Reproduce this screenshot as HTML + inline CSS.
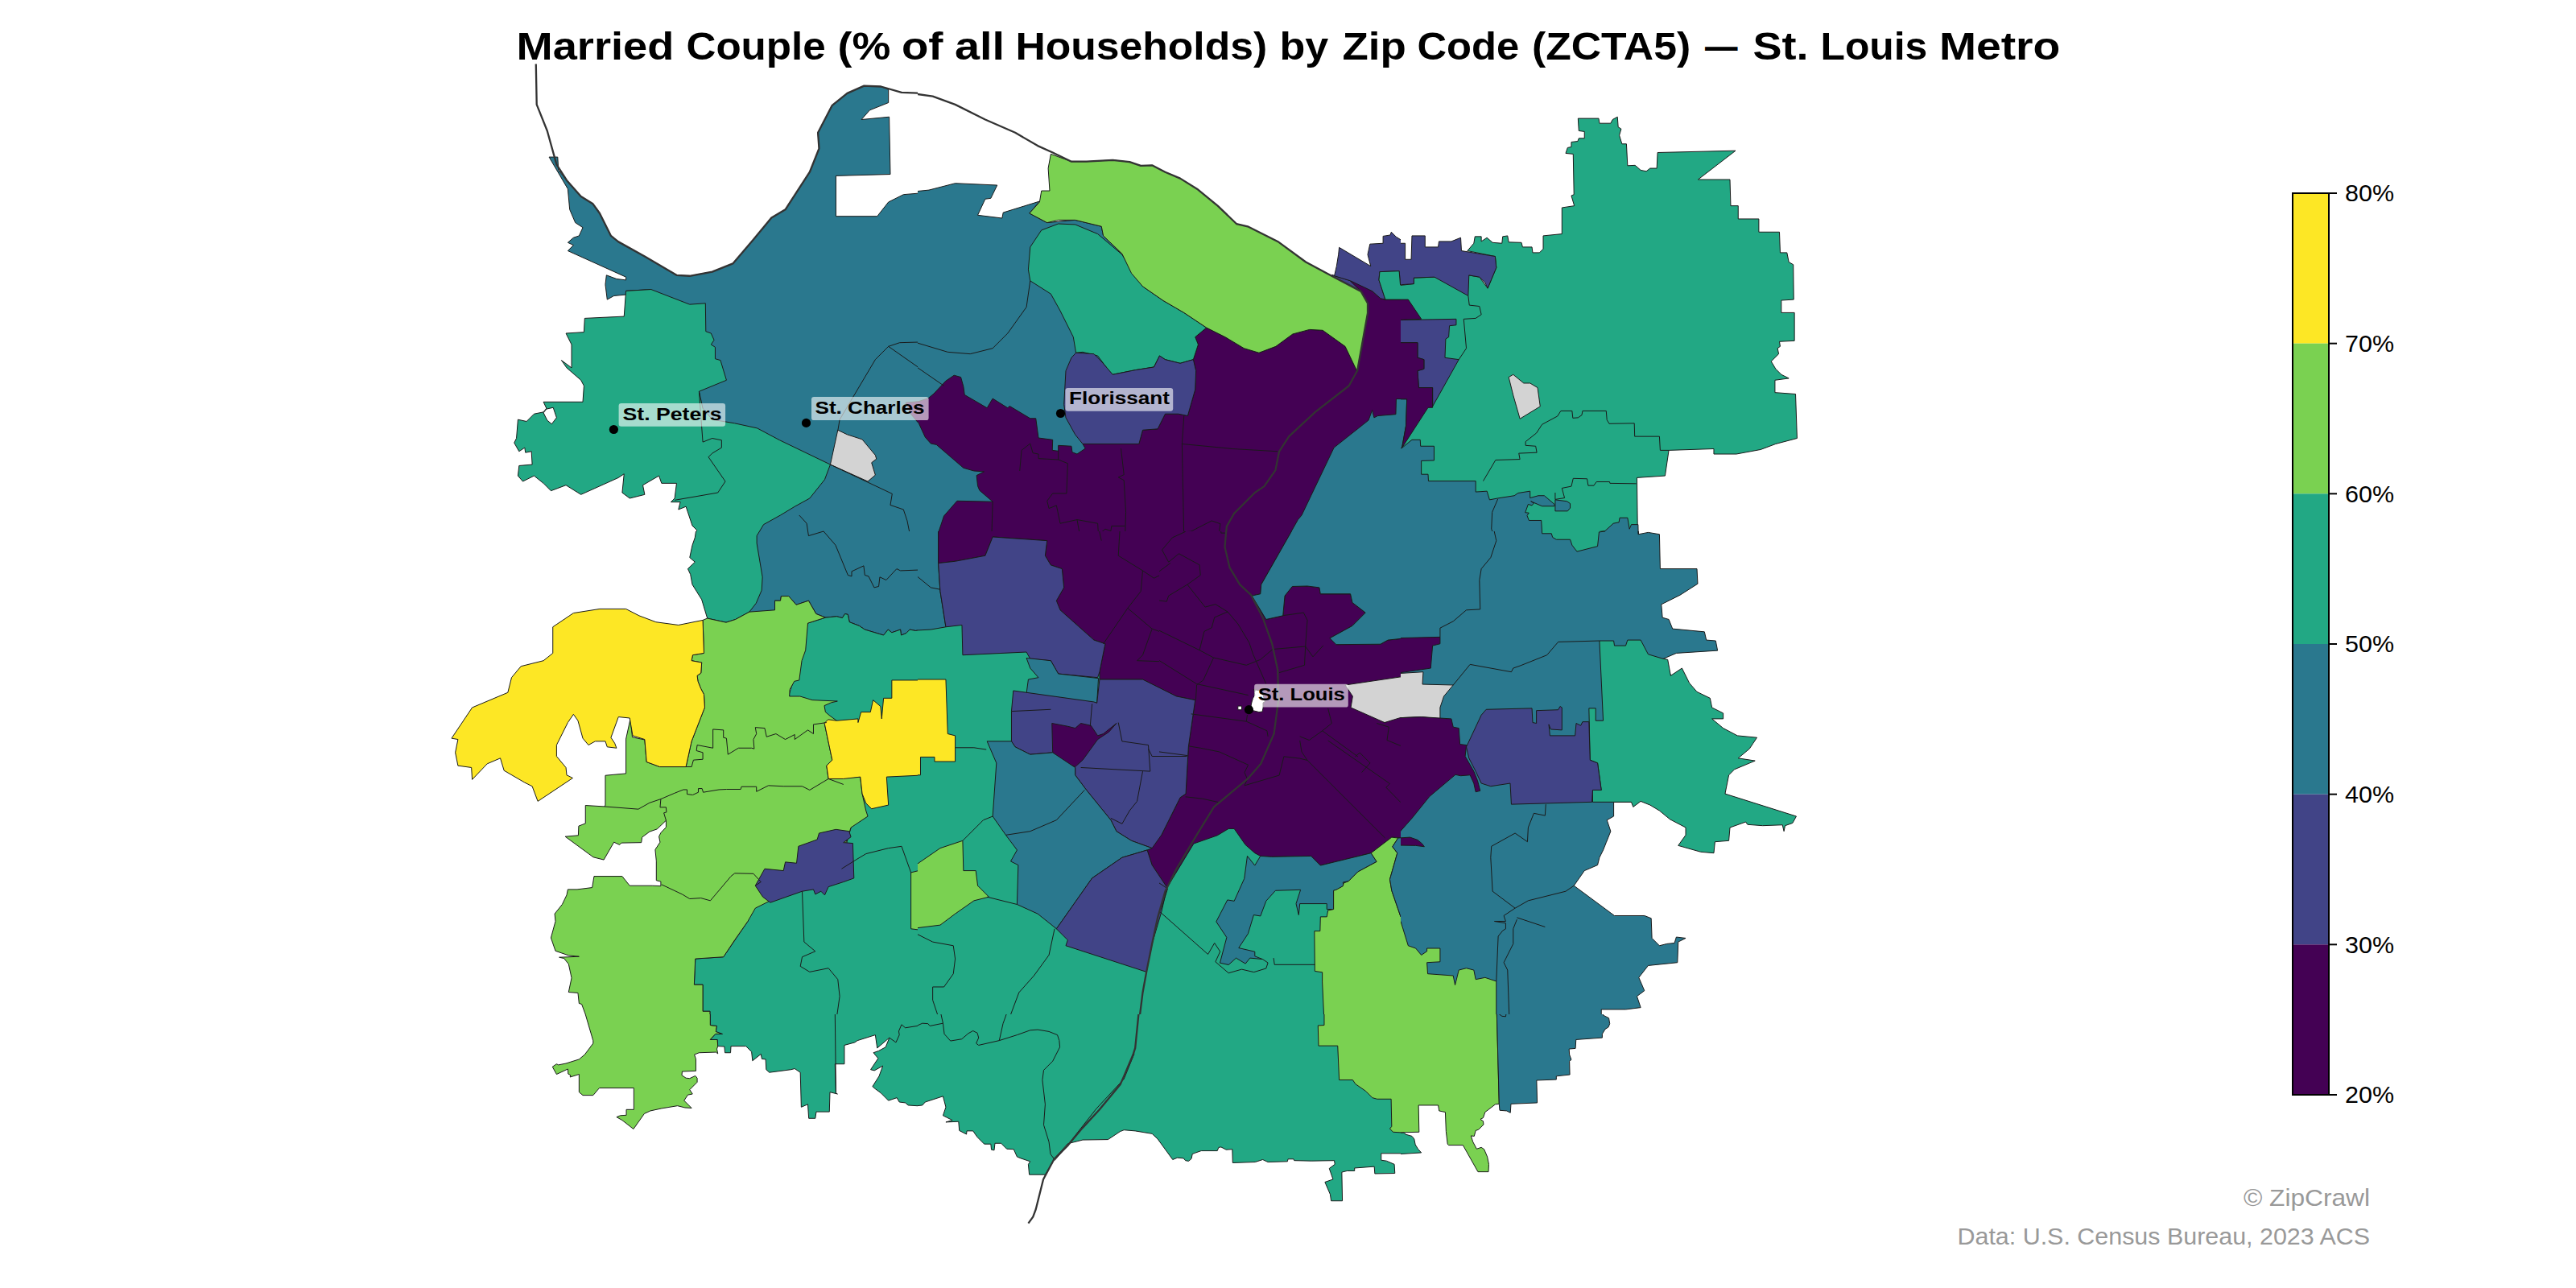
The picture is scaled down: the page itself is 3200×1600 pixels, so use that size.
<!DOCTYPE html>
<html><head><meta charset="utf-8"><style>
html,body{margin:0;padding:0;background:#fff;}
body{width:3200px;height:1600px;overflow:hidden;position:relative;font-family:"Liberation Sans",sans-serif;}
svg{position:absolute;left:0;top:0;}
path{stroke:#1a1a1a;stroke-width:1;vector-effect:non-scaling-stroke;stroke-linejoin:round;}
.ln{fill:none;}
.rv{fill:none;stroke:#333;stroke-width:2.3;}
</style></head><body>
<svg width="3200" height="1600" viewBox="0 0 3200 1600">
<defs><clipPath id="ct1"><rect x="540" y="60" width="600" height="600"/></clipPath><clipPath id="ct2"><rect x="1140" y="60" width="600" height="600"/></clipPath><clipPath id="ct3"><rect x="1740" y="60" width="600" height="600"/></clipPath><clipPath id="ct4"><rect x="540" y="660" width="600" height="600"/></clipPath><clipPath id="ct5"><rect x="1140" y="660" width="600" height="600"/></clipPath><clipPath id="ct6"><rect x="1740" y="660" width="600" height="600"/></clipPath><clipPath id="ct7"><rect x="540" y="1260" width="600" height="300"/></clipPath><clipPath id="ct8"><rect x="1140" y="1260" width="600" height="300"/></clipPath><clipPath id="ct9"><rect x="1740" y="1260" width="600" height="300"/></clipPath></defs>
<g clip-path="url(#ct1)"><g transform="translate(540,60) scale(0.465839)">
<path d="M305 290 L328 290 330 325 352 352 390 395 422 415 440 440 470 500 490 516 560 555 645 605 680 607 740 596 795 574 850 510 898 452 935 430 1000 330 1025 267 1022 225 1060 152 1100 120 1145 100 1190 102 1210 110 1210 145 1160 165 1138 190 1212 183 1215 336 1070 340 1070 448 1180 448 1210 410 1250 390 1310 385 1310 1310 760 1310 705 915 650 800 577 643 510 647 510 657 478 660 460 670 455 630 458 605 485 615 510 618 510 610 355 540 370 525 355 518 370 505 385 500 395 478 375 465 360 430 355 375 Z" fill="#2a788e"/>
<path d="M577 643 L680 683 722 680 723 755 737 760 745 778 737 790 748 797 748 828 762 832 778 885 705 915 715 960 740 990 800 1000 860 1013 920 1045 1055 1110 1040 1150 1000 1200 960 1222 922 1245 877 1270 859 1300 859 1330 687 1330 694 1305 699 1285 687 1273 670 1222 650 1230 655 1210 630 1210 640 1200 645 1160 605 1160 598 1140 555 1165 560 1190 520 1200 500 1185 505 1135 490 1145 390 1190 350 1165 310 1180 290 1160 265 1140 235 1155 222 1140 225 1113 260 1110 258 1075 242 1078 240 1065 225 1075 212 1052 218 1040 222 990 245 995 265 975 290 970 298 960 290 943 395 943 398 900 390 885 352 852 338 832 365 852 365 790 350 760 398 757 400 720 505 715 510 647 Z" fill="#22a884"/>
<path d="M1256 945 L1288 942 1315 933 1315 1025 1288 997 1271 977 Z" fill="#440154"/>
<path d="M1075 1018 L1100 1030 1140 1043 1175 1085 1178 1095 1165 1105 1175 1138 1155 1155 1055 1110 Z" fill="#d3d3d3"/>
<path d="M298 962 L316 958 325 985 312 1002 300 992 290 972 Z" fill="#ffffff"/>
<path d="M705 915 L715 1050 740 1040 765 1045 765 1065 740 1080 730 1090 775 1155 755 1185 640 1205" class="ln"/>
<path d="M1075 1020 L1080 990 1175 830 1210 795 1240 785 1310 783" class="ln"/>
<path d="M1210 795 L1310 865" class="ln"/>
<path d="M1055 1110 L1220 1188 1215 1218 1250 1230 1260 1260 1270 1310" class="ln"/>
<path d="M972 1245 L992 1267 997 1300 1037 1288" class="ln"/>
<path d="M270 42 L272 150 300 220 325 310 352 352 390 395 422 415 440 440 470 500 490 516 560 555 645 605 680 607 740 596 795 574 850 510 898 452 935 430 1000 330 1025 267 1022 225 1060 152 1100 120 1145 100 1190 102 1245 118 1310 120" class="rv"/>
</g></g><g clip-path="url(#ct2)"><g transform="translate(1140,60) scale(0.465839)">
<path d="M-20 383 L30 378 100 360 212 365 195 400 180 402 160 445 225 453 228 438 325 408 298 440 345 465 420 458 490 475 495 500 700 700 1172 860 1310 900 1310 1310 -20 1310 Z" fill="#2a788e"/>
<path d="M1105 604 L1154 620 1185 650 1105 612 Z" fill="#414487"/>
<path d="M-33 945 L1.5 942 28.6 933 43 921 75 887 97 872 115 877 122 902 125 924 185 959 200 934 240 959 245 954 300 987 315 987 322 1039 360 1044 359 1072 375 1074 375 1059 410 1061 412 1077 425 1082 447 1067 440 1055 590 1055 600 1018 640 1015 660 975 695 975 720 980 740 910 742 860 735 830 748 790 740 770 770 745 820 770 870 800 910 812 955 795 1000 762 1045 750 1080 752 1140 795 1172 862 1200 706 1200 680 1182 648 1154 621 1165 622 1213 648 1234 667 1247 670 1310 670 1310 935 1276 935 1275 976 1227 980 1217 985 1212 965 1202 992 1110 1065 1024 1245 1014 1257 916 1430 60 1312 55 1292 70 1247 105 1207 200 1209 165 1179 160 1167 157 1139 177 1129 150 1127 122 1119 50 1057 35 1054 20 1037 1.5 997 -16.5 977 Z" fill="#440154"/>
<path d="M295 590 L300 530 330 485 375 468 420 470 480 495 545 550 575 600 600 635 655 673 710 705 770 745 740 770 748 790 735 830 700 840 660 830 645 820 630 850 580 858 520 870 510 860 480 820 440 810 422 812 415 770 380 700 355 655 300 620 Z" fill="#22a884"/>
<path d="M422 812 L470 815 490 835 520 870 580 858 630 850 645 820 660 830 700 840 735 830 742 860 740 910 720 980 695 975 660 975 640 1015 600 1018 590 1055 440 1055 420 1030 395 985 390 950 395 860 410 825 Z" fill="#414487"/>
<path d="M355 282 L410 302 450 302 520 298 565 303 595 313 625 312 660 330 700 347 745 375 800 420 850 468 880 475 960 515 1035 570 1110 610 1182 648 1200 680 1200 706 1172 862 1140 795 1080 752 1045 750 1000 762 955 795 910 812 870 800 820 770 770 745 710 705 655 673 600 635 570 600 545 548 495 500 490 475 420 458 375 458 345 465 298 440 325 410 330 380 352 380 348 320 Z" fill="#7ad151"/>
<path d="M1111 607 L1117 581 1122 550 1124 531 1208 581 1200 550 1206 522 1241 520 1241 501 1260 498 1263 490 1276 503 1297 516 1300 563 1319 563 1319 628 1287 630 1284 594 1232 596 1230 618 1247 670 1234 667 1213 648 1154 620 Z" fill="#414487"/>
<path d="M1230 618 L1232 596 1284 594 1287 631 1323 628 1323 670 1247 670 Z" fill="#22a884"/>
<path d="M300 620 L290 690 240 760 200 800 140 815 80 810 -20 780" class="ln"/>
<path d="M-20 838 L70 900" class="ln"/>
<path d="M272 1127 L277 1072 300 1054 307 1079 322 1082 322 1094 375 1097 375 1074" class="ln"/>
<path d="M375 1097 L400 1107 397 1187 360 1187 345 1207 350 1227 370 1219 380 1267 425 1257 480 1267 482 1297 500 1282 515 1287 517 1274 552 1274" class="ln"/>
<path d="M542 1067 L550 1137 535 1144 550 1152 555 1237 552 1330" class="ln"/>
<path d="M710 980 L705 1055 710 1310" class="ln"/>
<path d="M705 1055 L840 1068 960 1075" class="ln"/>
<path d="M200 1209 L197 1310" class="ln"/>
<path d="M425 1257 L435 1312" class="ln"/>
<path d="M712 1290 L729 1288 784 1260 807 1268 804 1290 819 1293" class="ln"/>
<path d="M-30 118 L40 128 100 150 180 190 260 225 320 260 360 278 410 302 450 302 520 298 565 303 595 313 625 312 660 330 700 347 745 375 800 420 850 468 880 475 960 515 1035 570 1110 610 1182 648 1200 680 1200 706 1172 862" class="rv"/>
<path d="M1172 860 L1150 900 1060 970 990 1035 964 1075 954 1125 924 1168 899 1185 844 1240 824 1275 819 1330" class="rv"/>
</g></g><g clip-path="url(#ct3)"><g transform="translate(1740,60) scale(0.465839)">
<path d="M473 187 L528 187 530 200 560 200 565 190 578 183 580 210 588 215 583 232 590 255 602 255 605 313 625 312 640 325 655 328 665 320 683 320 685 278 893 273 793 350 878 350 880 420 900 420 900 455 955 455 955 490 1010 490 1012 545 1030 545 1035 570 1047 577 1048 670 1015 672 1015 705 1050 705 1050 780 1010 782 1012 795 1005 800 1008 815 988 835 1000 855 1015 870 1035 880 998 885 998 918 1053 922 1057 1040 1000 1055 960 1070 895 1082 835 1082 835 1068 715 1072 705 1140 630 1145 632 1310 -20 1310 -20 632 0 632 35 628 35 612 90 610 180 605 210 610 232 640 255 585 252 555 178 540 195 520 198 502 215 502 215 515 230 505 245 518 270 520 272 502 285 500 288 517 322 518 325 530 350 530 352 545 370 545 380 535 380 500 430 495 430 425 463 420 455 393 462 390 460 282 440 280 445 265 455 263 455 250 472 248 475 240 490 240 490 222 475 220 Z" fill="#22a884"/>
<path d="M-20 520 L12 520 12 563 28 563 30 500 65 500 65 530 100 530 102 515 135 515 160 505 162 540 252 555 255 585 232 640 225 625 210 610 182 605 180 660 90 610 35 612 35 628 -20 632 Z" fill="#414487"/>
<path d="M-20 670 L20 670 55 722 -20 725 Z" fill="#440154"/>
<path d="M-20 725 L148 722 148 738 130 740 128 770 120 775 118 825 155 830 85 955 85 905 48 905 45 860 62 855 62 830 45 825 45 785 -20 785 Z" fill="#414487"/>
<path d="M-20 935 L16.5 935.5 14 1007 3 1066 -20 1066 Z" fill="#2a788e"/>
<path d="M-20 785 L45 785 45 825 62 830 62 855 45 860 48 905 85 905 85 958 73 958 3 1066 4 1064 14 1007 16.5 935.5 -20 935 Z" fill="#440154"/>
<path d="M-20 1066 L3 1066 30 1044 52 1044 53 1061 89 1061 89 1099 55 1100 55 1136 73 1136 74 1154 200 1154 200 1183 230 1181 237 1204 258 1200 303 1193 313 1186 345 1181 345 1199 367 1193 383 1193 410 1216 410 1221 377 1221 347 1208 355 1213 350 1219 340 1216 332 1238 342 1239 337 1246 342 1259 375 1259 378 1310 -20 1310 Z" fill="#2a788e"/>
<path d="M412 1204 L443 1208 452 1214 452 1226 445 1234 412 1234 Z" fill="#2a788e"/>
<path d="M529 1310 L529 1289 545 1287 567 1267 582 1264 584 1252 605 1252 610 1282 615 1270 633 1270 634 1310 Z" fill="#2a788e"/>
<path d="M288 877 L300 870 328 893 345 893 365 905 372 955 318 988 300 925 Z" fill="#d3d3d3"/>
<path d="M220 1154 L253 1098 318 1096 315 1080 363 1078 360 1061 333 1059 333 1049 362 1026 377 1003 418 981 427 967 457 967 459 986 473 985 483 978 485 967 548 967 550 991 556 1001 623 1000 624 1035 690 1035 692 1072 715 1072" class="ln"/>
<path d="M412 1185 L412 1203 437 1199 430 1173 455 1168 460 1147 497 1148 500 1166 515 1166 522 1156 557 1156 558 1160 628 1161" class="ln"/>
<path d="M259 1202 L244 1237 242 1282 254 1310" class="ln"/>
<path d="M180 660 L183 685 210 688 215 710 200 720 168 722 175 800 155 830" class="ln"/>
</g></g><g clip-path="url(#ct4)"><g transform="translate(540,660) scale(0.465839)">
<path d="M840 -43 L1331 -43 1331 267 1302 262 1282 265 1267 262 1257 272 1244 277 1242 262 1219 270 1209 262 1197 277 1147 262 1132 252 1106 242 1102 222 1094 220 1087 231 1072 227 1042 230 1017 220 997 185 964 196 944 173 924 173 922 185 907 185 907 228 830 232 800 100 Z" fill="#2a788e"/>
<path d="M685 -43 L922 -43 877 -18 859 12 859 32 874 122 872 157 857 192 839 215 802 235 777 243 727 232 712 182 687 142 682 115 675 100 694 82 680 70 687 37 694 17 697 -3 687 -15 Z" fill="#22a884"/>
<path d="M995 245 L1042 230 1072 227 1087 231 1094 220 1102 222 1106 242 1132 252 1147 262 1197 277 1209 262 1219 270 1242 262 1244 277 1257 272 1267 262 1282 265 1302 262 1331 267 1331 1310 734 1310 734 1280 715 1280 715 1209 692 1209 695 1140 770 1135 835 1040 850 1000 1085 880 1110 790 1000 690 945 435 975 340 Z" fill="#22a884"/>
<path d="M715 237 L727 232 777 243 802 235 839 215 907 210 907 185 922 185 924 173 944 173 964 196 997 185 1017 220 1042 230 995 245 989 317 979 345 972 397 959 400 947 422 946 440 974 440 1007 450 1074 453 1057 457 1039 465 1042 482 1054 492 1072 505 1040 515 1060 610 1045 625 1050 660 1135 655 1140 700 1150 745 1155 760 1110 790 1090 850 1085 900 895 985 855 1005 835 1040 800 1090 770 1135 695 1140 692 1209 715 1209 715 1280 734 1280 734 1310 410 1310 392 1261 385 1259 382 1231 357 1229 365 1191 357 1154 345 1139 332 1136 385 1134 357 1131 322 1119 310 1084 322 1040 320 1020 340 995 352 970 355 955 380 955 420 950 425 920 500 920 520 945 580 945 603 946 603 934 591 931 591 879 588 849 601 829 598 814 603 804 617 789 617 771 593 794 573 801 553 816 551 830 498 831 493 836 478 829 451 876 423 869 348 814 383 811 384 786 402 779 402 731 453 734 455 730 455 651 510 646 510 554 522 499 527 549 560 556 565 615 600 628 670 628 685 560 720 470 718 435 710 420 702 400 700 385 710 378 712 350 685 345 688 330 718 325 Z" fill="#7ad151"/>
<path d="M45 552 L100 470 195 430 205 390 230 360 290 345 315 325 315 255 370 218 440 207 510 207 545 225 590 242 650 250 715 237 718 325 688 330 685 345 712 350 710 378 700 385 702 400 710 420 718 435 720 470 685 560 670 628 600 628 565 615 560 555 528 545 520 498 490 495 470 550 480 565 485 578 460 575 455 560 428 560 410 570 395 552 382 505 370 488 355 510 325 570 325 600 350 630 352 650 368 658 275 720 260 680 240 670 185 638 175 605 140 620 100 662 98 630 62 625 55 590 62 555 Z" fill="#fde725"/>
<path d="M1039 512 L1049 502 1072 505 1129 500 1129 510 1137 482 1162 482 1169 450 1189 467 1192 500 1197 445 1219 445 1219 397 1310 397 1310 650 1205 655 1210 730 1165 740 1150 725 1140 700 1135 655 1090 660 1050 660 1045 625 1060 610 1040 515 Z" fill="#fde725"/>
<path d="M880 900 L930 905 935 882 965 885 970 840 1020 822 1025 805 1070 795 1105 800 1110 815 1090 830 1115 832 1118 925 1090 935 1050 948 1040 970 1030 960 1015 968 1010 955 980 960 895 990 875 975 855 945 Z" fill="#414487"/>
<path d="M1270 910 L1310 900 1310 1065 1270 1060 Z" fill="#7ad151"/>
<path d="M670 628 L685 628 690 610 715 608 715 590 698 585 700 570 742 578 742 528 770 530 770 550 778 552 782 595 810 578 845 578 852 580 850 555 858 540 855 523 880 525 885 548 910 540 935 555 960 542 960 555 995 530 1010 540 1010 515 1045 510" class="ln"/>
<path d="M453 734 L543 741 573 724 603 714 638 699 663 689 673 689 673 701 688 703 703 696 703 686 713 686 716 696 728 694 758 689 778 688 816 688 818 681 858 681 858 694 890 678 930 680 980 680 1000 690 1050 660 1090 675" class="ln"/>
<path d="M603 714 L601 736 617 736 618 749 611 751 617 771" class="ln"/>
<path d="M1085 900 L1125 875 1150 860 1210 845 1245 840 1270 910" class="ln"/>
<path d="M980 960 L985 1095 1015 1120 980 1135 975 1160 1000 1175 1050 1165 1075 1195 1080 1240 1070 1310" class="ln"/>
<path d="M972 -43 L992 -20 997 12 1037 0 1069 37 1102 117 1112 120 1112 107 1144 92 1147 117 1157 120 1172 150 1184 147 1187 122 1204 130 1232 100 1242 105 1294 103 1317 147 1331 150" class="ln"/>
<path d="M1257 -43 L1262 -5 1294 -3 1307 15 1331 22" class="ln"/>
<path d="M605 942 L660 968 680 980 710 978 735 985 790 920 800 912 850 913 870 935 855 945" class="ln"/>
</g></g><g clip-path="url(#ct5)"><g transform="translate(1140,660) scale(0.465839)">
<path d="M-20 -20 L1310 -20 1310 1310 -20 1310 Z" fill="#22a884"/>
<path d="M-20 -20 L55 -20 55 85 60 160 75 255 35 262 -20 265 Z" fill="#2a788e"/>
<path d="M55 -20 L1030 -50 1014 -30 916 142 914 167 891 172 929 235 974 225 979 172 999 147 1039 146 1071 150 1074 167 1154 167 1159 190 1194 217 1159 252 1099 285 1116 302 1234 301 1254 290 1310 284 1310 818 1264 816 1209 858 1074 891 1049 866 944 868 914 866 899 858 874 836 844 793 829 793 799 811 736 833 665 950 625 890 612 850 650 810 660 790 700 710 715 700 722 575 740 450 690 440 600 395 485 395 485 375 500 300 470 290 380 210 375 210 370 185 390 150 385 100 355 90 340 65 345 25 200 15 180 65 100 80 55 85 Z" fill="#440154"/>
<path d="M1030 -50 L1310 -50 1310 284 1254 290 1234 301 1116 302 1099 285 1159 252 1194 217 1159 190 1154 167 1074 167 1071 150 1039 146 999 147 979 172 974 225 929 235 891 172 914 167 916 142 1014 -30 Z" fill="#2a788e"/>
<path d="M55 85 L100 80 180 65 200 15 345 25 340 65 355 90 385 100 390 150 370 185 380 210 470 290 500 300 485 375 480 390 375 380 355 345 300 340 290 322 120 330 118 250 75 255 60 160 Z" fill="#414487"/>
<path d="M290 338 L355 345 375 380 482 392 478 458 290 432 295 395 322 390 300 365 Z" fill="#2a788e"/>
<path d="M255 425 L470 455 478 458 485 395 600 395 690 440 740 450 722 575 715 700 700 710 660 790 650 810 625 845 570 825 530 800 515 770 450 690 420 650 420 630 360 590 300 595 260 575 250 560 250 480 Z" fill="#414487"/>
<path d="M358 512 L400 520 420 525 435 512 462 518 480 545 495 540 530 512 510 535 480 555 440 610 420 628 400 620 360 590 Z" fill="#440154"/>
<path d="M185 560 L250 560 260 575 300 595 360 590 420 630 420 650 450 690 515 770 530 800 570 825 625 845 612 850 545 870 465 925 370 1060 320 1020 265 995 268 890 248 880 265 850 235 810 200 760 210 618 Z" fill="#2a788e"/>
<path d="M370 1060 L465 925 545 870 612 850 625 890 665 950 650 1015 625 1100 610 1175 395 1105 400 1090 Z" fill="#414487"/>
<path d="M-20 395 L75 395 80 540 100 545 100 614 45 614 45 602 7.5 602 7.5 650 -20 650 Z" fill="#fde725"/>
<path d="M-20 900 L60 845 120 825 122 905 155 905 160 945 190 975 150 985 100 1020 60 1050 -20 1060 Z" fill="#7ad151"/>
<path d="M879 866 L899 891 914 866 944 868 1049 866 1074 891 1209 858 1224 881 1174 908 1149 933 1134 936 1136 946 1116 956 1109 958 1109 1008 1091 1008 1091 993 1019 993 1016 1023 1009 993 1021 956 954 958 929 986 914 1026 896 1023 881 1073 856 1111 899 1121 899 1133 919 1141 886 1138 874 1153 849 1138 829 1156 806 1151 824 1083 796 1041 826 983 844 986 871 926 Z" fill="#2a788e"/>
<path d="M1084 1310 L1079 1202 1079 1176 1059 1173 1058 1066 1073 1066 1074 1028 1091 1028 1094 1011 1109 1008 1109 958 1116 956 1134 946 1136 938 1149 933 1174 908 1224 881 1209 858 1264 816 1281 818 1266 841 1279 858 1259 928 1264 958 1288 1028 1310 1040 1310 1310 Z" fill="#7ad151"/>
<path d="M1266 841 L1281 818 1310 815 1310 1040 1288 1028 1264 958 1259 928 1279 858 Z" fill="#2a788e"/>
<path d="M1140 410 L1310 385 1310 490 1245 510 1155 470 1160 440 Z" fill="#d3d3d3"/>
<path d="M895 422 L900 424 898 430 899 437 894 445 891 455 889 464 894 478 910 482 919 481 921 471 921 457 926 455 921 437 915 425 Z" fill="#ffffff"/>
<path d="M854 466 L864 466 864 476 854 476 Z" fill="#ffffff"/>
<path d="M-20 105 L35 150 60 155" class="ln"/>
<path d="M100 577 L150 577 183 582" class="ln"/>
<path d="M120 825 L175 770 200 760" class="ln"/>
<path d="M235 810 L300 800 370 770 445 690" class="ln"/>
<path d="M480 -20 L490 25" class="ln"/>
<path d="M540 -20 L535 65 600 105 630 125 644 118" class="ln"/>
<path d="M600 105 L595 160 560 205 495 300" class="ln"/>
<path d="M560 205 L625 260 600 330 585 345 644 347" class="ln"/>
<path d="M625 260 L644 267" class="ln"/>
<path d="M724 573 L754 578 804 588 881.5 623 871.5 643 879 660.6 871.5 678 964 650.6 976.5 600.6 1019 605.6 1039 610.6 1246.5 818" class="ln"/>
<path d="M1019 558 L1024 588 1039 610.6" class="ln"/>
<path d="M1094 558 L1259 673 1249 683 1288 723" class="ln"/>
<path d="M1166.5 600.6 L1179 590.6 1206.5 618 1184 643" class="ln"/>
<path d="M714 708 L759 713 804 723" class="ln"/>
<path d="M644 588 L719 598" class="ln"/>
<path d="M644 938 L666.5 953 649 1008" class="ln"/>
<path d="M250 480 L355 475" class="ln"/>
<path d="M465 460 L460 520" class="ln"/>
<path d="M535 510 L545 560 615 570 620 640 435 630" class="ln"/>
<path d="M615 580 L625 600 718 600" class="ln"/>
<path d="M600 640 L585 720 565 745 545 780 515 765" class="ln"/>
<path d="M-20 1065 L40 1095 95 1105 100 1140 95 1180 70 1215 40 1215 40 1250 60 1310" class="ln"/>
<path d="M365 1060 L350 1130 310 1185 270 1230 240 1310" class="ln"/>
<path d="M644 1013 L774 1128 791.5 1098 806.5 1120.6 794 1148 829 1178 864 1168 896.5 1175.6 929 1165.6 934 1150.6 919 1140.6" class="ln"/>
<path d="M185 975 L265 995" class="ln"/>
<path d="M949 1138 L951.5 1155.6 1059 1155.6" class="ln"/>
<path d="M704 -43 L711.5 2 756.5 -28 784 -28 806.5 -18 809 4.6 821.5 4.6" class="ln"/>
<path d="M711.5 2 L679 17 651.5 49.6 669 82 696.5 59.6 751.5 89.6 754 117 719 142 669 172 664 187 644 184.6" class="ln"/>
<path d="M644 107 L674 84.6" class="ln"/>
<path d="M719 142 L766.5 202 794 194.6 826.5 214.6 854 247 884 297 894 327 929 407" class="ln"/>
<path d="M644 264.6 L751.5 317 789 337 876.5 357 914 342 946.5 314.6 1034 307 1031.5 357 964 377" class="ln"/>
<path d="M1034 307 L1054 334.6 1081.5 304.6" class="ln"/>
<path d="M826.5 214.6 L791.5 229.6 784 257 764 267 751.5 317" class="ln"/>
<path d="M789 337 L761.5 397 744 409.6 741.5 449.6" class="ln"/>
<path d="M644 344.6 L744 407 881.5 437" class="ln"/>
<path d="M974 224.6 L1029 217 1039 237 1034 307" class="ln"/>
<path d="M729 487 L876.5 507 931.5 532 934 547" class="ln"/>
<path d="M876.5 507 L879 489.6" class="ln"/>
<path d="M1019 547 L1044 557 1079 532 1174 601" class="ln"/>
<path d="M1094 472 L1104 512 1079 532" class="ln"/>
<path d="M1224 512 L1256.5 522 1251.5 557 1288 572" class="ln"/>
<path d="M844 -43 L824 -18 819 42 832 97 859 142 889 170 920 230 945 300 960 370 962 450 950 540 915 620 880 660 820 710 790 735 750 800 720 850 690 900 660 960 640 1030 625 1100 610 1175 600 1230 590 1310" class="rv"/>
</g></g><g clip-path="url(#ct6)"><g transform="translate(1740,660) scale(0.465839)">
<path d="M-20 -43 L632 -43 634 8 660 3 690 8 692 100 790 100 792 140 745 170 695 195 698 230 715 235 725 260 810 268 815 290 840 292 845 318 735 325 700 340 865 700 615 722 568 722 568 760 550 770 560 800 548 830 540 850 530 870 525 890 490 905 462 945 570 1025 650 1025 668 1032 670 1085 690 1105 710 1100 730 1098 735 1082 760 1085 740 1095 738 1150 660 1158 635 1190 650 1225 630 1240 640 1270 600 1275 535 1275 535 1310 -20 1310 Z" fill="#2a788e"/>
<path d="M340 -43 L342 -30 375 -29 377 6 402 6 405 16 415 22 452 22 457 37 470 54 525 40 529 2 545 0 567 -20 582 -23 584 -35 605 -35 610 -5 615 -17 633 -17 634 8 632 -43 Z" fill="#22a884"/>
<path d="M530 292 L568 292 570 305 600 305 605 290 640 290 660 328 700 340 712 342 720 385 750 365 770 405 790 428 825 445 830 470 860 485 860 500 830 500 860 525 898 545 950 550 940 565 930 580 900 605 945 612 890 635 875 650 865 700 1055 760 1045 778 1025 785 1022 800 1018 783 965 785 925 782 920 775 878 790 875 825 838 828 835 858 800 855 740 838 760 810 760 790 718 768 690 745 665 730 640 720 620 735 615 722 568 722 512 722 512 690 535 690 525 618 505 610 502 472 520 472 520 505 540 505 Z" fill="#22a884"/>
<path d="M175 575 L215 490 228 475 350 472 352 510 362 512 362 478 420 476 425 467 430 470 430 530 400 528 395 515 398 545 465 545 468 512 480 518 485 508 502 508 505 610 525 618 535 690 512 690 510 722 295 728 292 672 240 680 215 672 200 640 182 605 Z" fill="#414487"/>
<path d="M-20 285 L105 282 105 300 85 305 80 365 -20 380 Z" fill="#440154"/>
<path d="M-20 380 L60 375 58 408 140 410 115 440 105 470 105 500 55 495 -20 498 Z" fill="#d3d3d3"/>
<path d="M-20 498 L55 495 135 500 140 522 155 525 158 568 175 570 172 600 195 640 205 665 212 692 200 695 195 672 185 650 160 652 146 649 77 707 31 764 0 799 -8 818 25 816 45 823 57 833 63 841 40 838 -23 837 -20 800 Z" fill="#440154"/>
<path d="M-20 1040 L0 1040 20 1105 40 1112 55 1130 70 1120 70 1112 105 1112 105 1148 70 1150 72 1180 140 1185 145 1210 155 1170 175 1165 195 1170 200 1195 225 1190 255 1200 255 1310 -20 1310 Z" fill="#7ad151"/>
<path d="M245 -20 L255 25 240 70 215 100 210 130 212 208 175 210 140 240 105 258 105 282" class="ln"/>
<path d="M140 410 L185 355 295 375 300 365 320 358 390 330 420 295 530 292" class="ln"/>
<path d="M242 840 L240 870 245 960 305 1005 275 1025 280 1040 250 1040 280 1045 280 1060 272 1065 260 1080 255 1200" class="ln"/>
<path d="M242 840 L305 805 338 828 340 790 355 752 385 758 387 728" class="ln"/>
<path d="M305 1005 L340 985 380 975 440 960 462 945" class="ln"/>
<path d="M310 1030 L385 1055" class="ln"/>
<path d="M310 1035 L300 1060 300 1100 275 1150 285 1170 290 1310" class="ln"/>
</g></g><g clip-path="url(#ct7)"><g transform="translate(540,1260) scale(0.232919)">
<path d="M805 -20 L1470 -20 1470 58 1505 62 1500 92 1535 105 1498 105 1470 135 1508 135 1510 170 1505 185 1510 210 1500 202 1410 205 1385 215 1393 238 1393 302 1320 305 1318 325 1340 340 1360 342 1390 328 1400 340 1400 362 1360 402 1375 425 1350 430 1330 460 1370 500 1335 498 1295 488 1210 502 1150 515 1118 530 1060 612 1000 565 970 548 990 540 1022 538 1022 508 1062 508 1062 393 878 393 845 432 790 432 770 415 770 320 722 335 725 325 712 318 710 292 650 320 628 280 650 265 660 270 700 262 770 240 800 215 845 155 845 141 792 -40 Z" fill="#7ad151"/>
<path d="M1470 -20 L2600 -20 2600 490 2525 485 2510 472 2478 468 2465 445 2420 460 2380 420 2350 398 2335 385 2370 330 2390 275 2345 300 2325 295 2365 235 2340 205 2368 195 2405 175 2425 125 2360 180 2350 110 2255 140 2240 150 2185 165 2185 265 2135 265 2140 420 2148 425 2108 415 2105 520 2035 520 2030 555 1995 555 1990 480 1955 495 1950 310 1920 290 1900 295 1785 310 1768 295 1765 240 1745 238 1740 212 1695 248 1690 200 1660 170 1580 170 1578 205 1548 205 1545 172 1510 170 1508 135 1470 135 1498 105 1535 105 1500 92 1505 62 1470 58 Z" fill="#22a884"/>
<path d="M2135 -20 L2140 420 2148 425" class="ln"/>
<path d="M2600 58 L2510 72 2490 55 2475 90 2478 110 2460 150 2425 125" class="ln"/>
</g></g><g clip-path="url(#ct8)"><g transform="translate(1140,1260) scale(0.232919)">
<path d="M-20 -20 L2600 -20 2600 742 2472 742 2472 778 2500 782 2542 800 2545 848 2438 850 2435 812 2330 820 2330 835 2290 835 2262 842 2265 995 2205 995 2200 960 2172 895 2215 880 2195 822 2225 800 2222 780 2100 782 2008 780 2005 772 1975 772 1972 785 1868 788 1840 775 1800 788 1680 792 1678 720 1645 722 1618 708 1605 710 1598 728 1512 728 1478 740 1465 745 1460 770 1445 783 1428 780 1418 768 1385 765 1360 775 1280 665 1250 637 1160 622 1100 617 1080 625 1015 668 880 670 800 690 730 770 680 855 595 855 590 800 600 785 550 768 530 760 512 720 475 718 445 688 412 688 408 725 393 722 390 692 355 692 318 655 295 622 262 622 260 640 222 620 218 572 150 575 185 565 155 550 135 540 145 510 150 495 135 437 40 468 25 485 -20 490 Z" fill="#22a884"/>
<path d="M2600 -20 L2168 -20 2168 58 2135 60 2138 168 2240 168 2248 350 2320 350 2335 372 2390 410 2425 445 2450 452 2525 452 2528 598 2518 610 2535 628 2600 632 Z" fill="#7ad151"/>
<path d="M-20 68 L25 48 55 50 65 62 135 48" class="ln"/>
<path d="M120 -20 L135 48 142 105 175 142 235 132 270 102 295 88 318 100 325 125 312 155 325 165 435 140 530 110 600 85 640 82 700 92 745 110 755 140 758 175 720 250 672 298 665 350 680 480 672 590 700 680 708 745 730 775" class="ln"/>
<path d="M480 -20 L455 50 435 140" class="ln"/>
<path d="M1155 210 L1100 345 953 503 788 712 730 780" class="ln"/>
<path d="M1180 -20 L1160 180 1148 217 1100 330 1080 375 968 510 878 607 803 697 728 772 670 880 630 1040 615 1080 590 1115" class="rv"/>
</g></g><g clip-path="url(#ct9)"><g transform="translate(1740,1260) scale(0.232919)">
<path d="M-20 -20 L512 -20 525 478 505 480 450 522 440 552 425 560 440 570 442 588 415 615 400 620 392 650 375 648 385 680 405 718 430 710 445 720 462 760 470 800 468 840 412 840 332 698 255 698 250 692 242 625 238 522 205 515 200 485 95 485 98 628 20 630 -20 632 Z" fill="#7ad151"/>
<path d="M-20 632 L20 632 25 640 60 650 72 665 78 695 92 718 110 738 0 745 -20 745 Z" fill="#22a884"/>
<path d="M512 -20 L1080 -20 1080 5 1110 20 1115 50 1108 68 1090 80 1075 105 1075 125 935 135 932 182 898 185 900 215 910 242 900 250 902 322 830 330 830 348 725 352 728 472 588 478 585 525 565 515 528 512 525 478 Z" fill="#2a788e"/>
<path d="M520 -5 L540 10 560 12 565 -20" class="ln"/>
</g></g>
<g id="title" font-family="Liberation Sans, sans-serif" font-size="48" font-weight="bold" fill="#000">
<text x="641.50" y="74.3" textLength="195.79" lengthAdjust="spacingAndGlyphs">Married</text>
<text x="852.50" y="74.3" textLength="173.10" lengthAdjust="spacingAndGlyphs">Couple</text>
<text x="1040.50" y="74.3" textLength="65.83" lengthAdjust="spacingAndGlyphs">(%</text>
<text x="1120.00" y="74.3" textLength="51.57" lengthAdjust="spacingAndGlyphs">of</text>
<text x="1186.00" y="74.3" textLength="62.05" lengthAdjust="spacingAndGlyphs">all</text>
<text x="1261.50" y="74.3" textLength="312.63" lengthAdjust="spacingAndGlyphs">Households)</text>
<text x="1589.50" y="74.3" textLength="60.78" lengthAdjust="spacingAndGlyphs">by</text>
<text x="1667.50" y="74.3" textLength="79.19" lengthAdjust="spacingAndGlyphs">Zip</text>
<text x="1760.50" y="74.3" textLength="126.67" lengthAdjust="spacingAndGlyphs">Code</text>
<text x="1903.00" y="74.3" textLength="197.14" lengthAdjust="spacingAndGlyphs">(ZCTA5)</text>
<text x="2118.00" y="74.3" textLength="40.51" lengthAdjust="spacingAndGlyphs">—</text>
<text x="2177.50" y="74.3" textLength="68.99" lengthAdjust="spacingAndGlyphs">St.</text>
<text x="2261.50" y="74.3" textLength="132.73" lengthAdjust="spacingAndGlyphs">Louis</text>
<text x="2409.00" y="74.3" textLength="150.26" lengthAdjust="spacingAndGlyphs">Metro</text>
</g>
<g>
<circle cx="762.4" cy="533.5" r="5.6" fill="#000"/>
<rect x="768.6" y="501" width="132.5" height="28.8" rx="3.2" fill="#fff" fill-opacity="0.6" style="stroke:none"/>
<text x="773.5" y="522" font-family="Liberation Sans, sans-serif" font-size="22" font-weight="bold" textLength="123" lengthAdjust="spacingAndGlyphs">St. Peters</text>
<circle cx="1001.5" cy="525.4" r="5.6" fill="#000"/>
<rect x="1008" y="493.1" width="145.6" height="29" rx="3.2" fill="#fff" fill-opacity="0.6" style="stroke:none"/>
<text x="1012.6" y="513.9" font-family="Liberation Sans, sans-serif" font-size="22" font-weight="bold" textLength="136" lengthAdjust="spacingAndGlyphs">St. Charles</text>
<circle cx="1317.5" cy="513.5" r="5.6" fill="#000"/>
<rect x="1323.4" y="482" width="133.8" height="28.7" rx="3.2" fill="#fff" fill-opacity="0.6" style="stroke:none"/>
<text x="1328" y="502" font-family="Liberation Sans, sans-serif" font-size="22" font-weight="bold" textLength="125" lengthAdjust="spacingAndGlyphs">Florissant</text>
<circle cx="1551.4" cy="881.6" r="5.6" fill="#000"/>
<rect x="1558.1" y="849.8" width="116.7" height="28.8" rx="3.2" fill="#fff" fill-opacity="0.6" style="stroke:none"/>
<text x="1562.8" y="869.9" font-family="Liberation Sans, sans-serif" font-size="22" font-weight="bold" textLength="108" lengthAdjust="spacingAndGlyphs">St. Louis</text>
</g>
<g style="stroke:none">
<rect x="2848" y="240" width="45" height="186.67" fill="#fde725"/>
<rect x="2848" y="426.67" width="45" height="186.67" fill="#7ad151"/>
<rect x="2848" y="613.33" width="45" height="186.67" fill="#22a884"/>
<rect x="2848" y="800" width="45" height="186.67" fill="#2a788e"/>
<rect x="2848" y="986.67" width="45" height="186.67" fill="#414487"/>
<rect x="2848" y="1173.33" width="45" height="186.67" fill="#440154"/>
</g>
<rect x="2848" y="240" width="45" height="1120" fill="none" style="stroke:#000;stroke-width:2"/>
<g style="stroke:#000;stroke-width:2">
<line x1="2893" y1="240" x2="2903" y2="240"/>
<line x1="2893" y1="426.67" x2="2903" y2="426.67"/>
<line x1="2893" y1="613.33" x2="2903" y2="613.33"/>
<line x1="2893" y1="800" x2="2903" y2="800"/>
<line x1="2893" y1="986.67" x2="2903" y2="986.67"/>
<line x1="2893" y1="1173.33" x2="2903" y2="1173.33"/>
<line x1="2893" y1="1360" x2="2903" y2="1360"/>
</g>
<g font-family="Liberation Sans, sans-serif" font-size="30" fill="#000">
<text x="2913" y="250.2" textLength="61" lengthAdjust="spacingAndGlyphs">80%</text>
<text x="2913" y="436.8" textLength="61" lengthAdjust="spacingAndGlyphs">70%</text>
<text x="2913" y="623.5" textLength="61" lengthAdjust="spacingAndGlyphs">60%</text>
<text x="2913" y="810.2" textLength="61" lengthAdjust="spacingAndGlyphs">50%</text>
<text x="2913" y="996.8" textLength="61" lengthAdjust="spacingAndGlyphs">40%</text>
<text x="2913" y="1183.5" textLength="61" lengthAdjust="spacingAndGlyphs">30%</text>
<text x="2913" y="1370.2" textLength="61" lengthAdjust="spacingAndGlyphs">20%</text>
</g>
<g font-family="Liberation Sans, sans-serif" font-size="28.8" fill="#999">
<text x="2787" y="1497.6" textLength="157" lengthAdjust="spacingAndGlyphs">© ZipCrawl</text>
<text x="2431.5" y="1545.7" textLength="512.5" lengthAdjust="spacingAndGlyphs">Data: U.S. Census Bureau, 2023 ACS</text>
</g>

</svg>
</body></html>
